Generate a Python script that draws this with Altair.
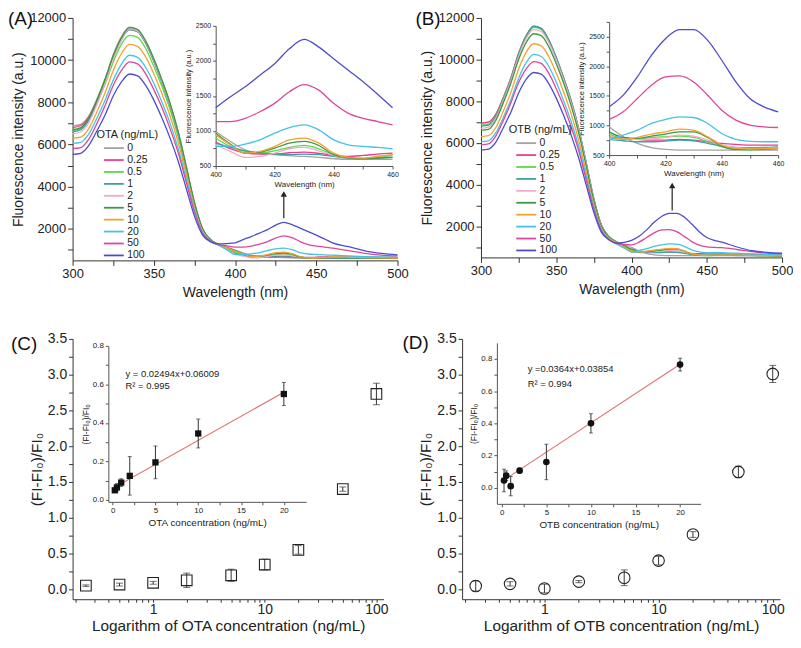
import altair as alt
import pandas as pd

FONT = "Liberation Sans"
CONC = ["0", "0.25", "0.5", "1", "2", "5", "10", "20", "50", "100"]
COLORS = ["#a3a3a3", "#ef3b8e", "#5ad94a", "#3f9fa6", "#f3a9c9",
          "#3b9a3b", "#f2a232", "#45c3e6", "#dc479b", "#4c4ccf"]

# wavelengths (nm)
WL = [300, 305, 310, 315, 320, 325, 330, 335, 340, 345, 350, 355, 360, 365, 370,
      375, 380, 385, 390, 395, 400, 405, 410, 415, 420, 425, 430, 435, 440, 445,
      450, 455, 460, 470, 480, 490, 500]

# Panel A: OTA spectra (a.u.)
OTA = {
    "0":    [6880, 6950, 7350, 8150, 9100, 10250, 11100, 11560, 11450, 10900, 10050, 9050, 7950, 6600, 4950, 3250, 2000, 1480, 1250, 1120, 992, 850, 732, 684, 661, 647, 637, 623, 604, 594, 594, 594, 594, 600, 605, 600, 595],
    "0.25": [6800, 6900, 7300, 8100, 9050, 10150, 11000, 11450, 11350, 10800, 9950, 8950, 7850, 6500, 4850, 3200, 1980, 1470, 1230, 1030, 840, 746, 684, 670, 670, 689, 699, 680, 651, 637, 651, 670, 684, 680, 660, 640, 630],
    "0.5":  [6650, 6750, 7150, 7950, 8850, 9900, 10750, 11170, 11080, 10550, 9700, 8750, 7650, 6350, 4750, 3150, 1950, 1460, 1220, 1060, 897, 779, 708, 684, 717, 765, 793, 746, 661, 613, 604, 623, 651, 640, 620, 610, 600],
    "1":    [6600, 6700, 7150, 7950, 8950, 10100, 10950, 11450, 11350, 10800, 9950, 8950, 7850, 6500, 4850, 3200, 1980, 1470, 1230, 1030, 826, 765, 717, 684, 670, 661, 670, 661, 637, 613, 604, 613, 623, 620, 610, 600, 595],
    "2":    [6500, 6600, 7050, 7900, 8900, 10050, 10950, 11480, 11380, 10850, 10000, 9000, 7900, 6550, 4900, 3200, 1990, 1470, 1240, 1020, 803, 708, 623, 637, 684, 746, 765, 717, 651, 613, 613, 637, 661, 650, 630, 615, 605],
    "5":    [6700, 6800, 7250, 8100, 9100, 10200, 11050, 11540, 11450, 10900, 10050, 9050, 7950, 6600, 4950, 3250, 2000, 1480, 1250, 1110, 968, 812, 684, 699, 755, 826, 850, 793, 661, 613, 604, 613, 623, 625, 615, 605, 600],
    "10":   [6300, 6350, 6750, 7550, 8450, 9500, 10300, 10750, 10650, 10150, 9350, 8400, 7350, 6100, 4550, 3000, 1880, 1430, 1230, 1090, 944, 803, 684, 708, 779, 873, 897, 826, 684, 623, 613, 637, 661, 650, 630, 615, 605],
    "20":   [6050, 6100, 6500, 7250, 8100, 9050, 9800, 10230, 10130, 9650, 8900, 8000, 7000, 5800, 4350, 2900, 1830, 1410, 1230, 1000, 779, 779, 812, 873, 968, 1048, 1086, 1015, 873, 803, 779, 765, 746, 710, 680, 660, 650],
    "50":   [5800, 5850, 6250, 7000, 7850, 8800, 9500, 9920, 9820, 9350, 8600, 7750, 6750, 5600, 4200, 2800, 1780, 1400, 1250, 1190, 1134, 1134, 1181, 1275, 1394, 1559, 1663, 1583, 1394, 1252, 1181, 1134, 1086, 960, 830, 750, 710],
    "100":  [5530, 5580, 5950, 6650, 7400, 8300, 8950, 9340, 9250, 8800, 8100, 7250, 6300, 5200, 3900, 2600, 1700, 1380, 1280, 1300, 1332, 1488, 1630, 1795, 1961, 2174, 2306, 2197, 2032, 1866, 1701, 1521, 1332, 1150, 950, 830, 760],
}

# Panel B: OTB spectra (a.u.)
OTB = {
    "0":    [6950, 7000, 7400, 8200, 9150, 10300, 11150, 11600, 11500, 10950, 10100, 9100, 8000, 6650, 5000, 3300, 2050, 1500, 1250, 1110, 978, 809, 697, 624, 596, 584, 584, 584, 584, 584, 584, 584, 584, 580, 575, 570, 565],
    "0.25": [6950, 7000, 7400, 8200, 9150, 10300, 11130, 11580, 11480, 10930, 10080, 9080, 7980, 6640, 4990, 3290, 2040, 1490, 1250, 1030, 809, 781, 764, 753, 753, 764, 753, 725, 697, 680, 669, 669, 669, 660, 640, 620, 610],
    "0.5":  [6850, 6900, 7320, 8150, 9100, 10250, 11100, 11550, 11450, 10900, 10060, 9060, 7960, 6620, 4980, 3280, 2040, 1490, 1250, 1050, 854, 781, 764, 798, 809, 820, 798, 725, 640, 596, 584, 596, 601, 600, 590, 580, 575],
    "1":    [6800, 6850, 7300, 8120, 9100, 10250, 11120, 11600, 11500, 10950, 10100, 9100, 8000, 6650, 5000, 3300, 2050, 1500, 1250, 1000, 764, 742, 725, 725, 736, 753, 742, 697, 652, 629, 624, 629, 640, 630, 615, 600, 590],
    "2":    [6700, 6760, 7200, 8050, 9020, 10150, 11000, 11440, 11350, 10820, 9980, 9000, 7900, 6580, 4950, 3250, 2020, 1480, 1240, 1000, 775, 775, 764, 775, 798, 837, 820, 753, 669, 629, 612, 612, 624, 615, 600, 590, 585],
    "5":    [6600, 6650, 7100, 7950, 8900, 10000, 10820, 11240, 11150, 10620, 9800, 8850, 7750, 6450, 4850, 3200, 1980, 1470, 1230, 1060, 893, 798, 781, 820, 854, 893, 893, 798, 652, 596, 596, 607, 612, 605, 595, 585, 580],
    "10":   [6300, 6350, 6750, 7550, 8450, 9550, 10350, 10760, 10660, 10150, 9350, 8420, 7370, 6100, 4550, 3000, 1880, 1420, 1200, 1000, 809, 764, 798, 854, 893, 938, 921, 809, 669, 612, 601, 612, 612, 610, 600, 590, 585],
    "20":   [6050, 6100, 6500, 7250, 8100, 9100, 9850, 10250, 10150, 9680, 8920, 8000, 7000, 5800, 4350, 2900, 1830, 1380, 1150, 950, 764, 837, 921, 1034, 1101, 1146, 1135, 1034, 865, 764, 730, 725, 725, 700, 670, 650, 640],
    "50":   [5900, 5950, 6350, 7100, 7950, 8900, 9550, 9900, 9820, 9350, 8600, 7750, 6750, 5600, 4200, 2800, 1780, 1350, 1180, 1120, 1101, 1231, 1455, 1680, 1821, 1838, 1736, 1512, 1259, 1090, 1006, 978, 966, 880, 780, 710, 680],
    "100":  [5650, 5700, 6050, 6750, 7500, 8400, 9050, 9380, 9300, 8850, 8150, 7300, 6350, 5250, 3950, 2650, 1700, 1350, 1180, 1220, 1315, 1512, 1821, 2186, 2467, 2619, 2619, 2439, 2102, 1736, 1455, 1315, 1231, 1000, 820, 740, 700],
}

# Arrows (wavelength, start, end) in main-plot units
ARROW_A = [430, 2500, 3650]
ARROW_B = [427, 2750, 3950]

# Panels C / D: calibration data
CONC_NUM = [0.25, 0.5, 1, 2, 5, 10, 20, 50, 100]
OTA_RESP = [0.05, 0.065, 0.09, 0.125, 0.195, 0.345, 0.55, 1.40, 2.73]
OTA_ERR = [0.01, 0.02, 0.02, 0.10, 0.085, 0.075, 0.06, 0.03, 0.15]
OTB_RESP = [0.045, 0.075, 0.01, 0.106, 0.16, 0.40, 0.765, 1.64, 3.01]
OTB_ERR = [0.07, 0.03, 0.06, 0.015, 0.11, 0.06, 0.04, 0.08, 0.12]
FIT_X = [0.25, 20]
FIT_C_Y = [0.066, 0.559]
FIT_D_Y = [0.048, 0.767]
EQ_C = ["y = 0.02494x+0.06009", "R² = 0.995"]
EQ_D = ["y =0.0364x+0.03854", "R² = 0.994"]

LOG_TICKS = [0.2, 0.3, 0.4, 0.5, 0.6, 0.7, 0.8, 0.9, 1, 2, 3, 4, 5, 6, 7, 8, 9,
             10, 20, 30, 40, 50, 60, 70, 80, 90, 100]
Y_CAL_TICKS = [0, 0.25, 0.5, 0.75, 1.0, 1.25, 1.5, 1.75, 2.0, 2.25, 2.5, 2.75, 3.0, 3.25, 3.5]
INS_Y_TICKS = [0.0, 0.1, 0.2, 0.3, 0.4, 0.5, 0.6, 0.7, 0.8]
INS_X_TICKS = [0, 2.5, 5, 7.5, 10, 12.5, 15, 17.5, 20]


def long_df(spec):
    rows = []
    for c in CONC:
        for w, v in zip(WL, spec[c]):
            rows.append({"wl": w, "fi": v, "conc": c})
    return pd.DataFrame(rows)


def text_label(label, lx, ly):
    return alt.Chart(pd.DataFrame({"t": [label]})).mark_text(
        align="left", baseline="middle", fontSize=19, font=FONT, color="#111"
    ).encode(x=alt.value(lx), y=alt.value(ly), text="t:N")


def spectra_panel(spec, label, lx, ly, legend_title, legx, legy, W, H,
                  ins_xr, ins_yr, ins_ydom, arrow):
    df = long_df(spec)
    cscale = alt.Scale(domain=CONC, range=COLORS)
    xsc = alt.Scale(domain=[300, 500], nice=False, zero=False)
    ysc = alt.Scale(domain=[500, 12000], nice=False, zero=False)
    xax = alt.Axis(title="Wavelength (nm)", values=list(range(300, 501, 25)),
                   labelExpr="datum.value % 50 === 0 ? datum.label : ''",
                   labelFontSize=13, titleFontSize=14, tickSize=5, labelPadding=2,
                   titlePadding=5, labelFlush=False)
    yax = alt.Axis(title="Fluorescence intensity (a.u.)", values=list(range(1000, 12001, 1000)),
                   labelExpr="datum.value % 2000 === 0 ? datum.label : ''", format="d",
                   labelFontSize=13, titleFontSize=14, tickSize=5, labelPadding=2,
                   titlePadding=4, labelFlush=False)
    lines = alt.Chart(df).mark_line(strokeWidth=1.3, interpolate="monotone").encode(
        x=alt.X("wl:Q", scale=xsc, axis=xax),
        y=alt.Y("fi:Q", scale=ysc, axis=yax),
        color=alt.Color("conc:N", scale=cscale, sort=CONC, legend=alt.Legend(
            title=legend_title, orient="none", legendX=legx, legendY=legy,
            symbolType="M0.3,0H4.3", symbolSize=100, symbolStrokeWidth=1.8,
            labelOffset=19, labelFontSize=10.5, titleFontSize=11, titleFontWeight="normal",
            rowPadding=-1, titlePadding=2, labelColor="#222", titleColor="#222")),
    )
    arr = pd.DataFrame({"wl": [arrow[0]], "fi": [arrow[1]], "fi2": [arrow[2]]})
    head_df = pd.DataFrame({"wl": [arrow[0]], "fi": [arrow[2]]})
    rule = alt.Chart(arr).mark_rule(color="#222", strokeWidth=1.2).encode(
        x=alt.X("wl:Q", scale=xsc, axis=xax),
        y=alt.Y("fi:Q", scale=ysc, axis=yax), y2="fi2:Q")
    head = alt.Chart(head_df).mark_point(shape="triangle-up", filled=True, color="#222",
                                         size=40, opacity=1).encode(
        x=alt.X("wl:Q", scale=xsc, axis=xax),
        y=alt.Y("fi:Q", scale=ysc, axis=yax))
    main = alt.layer(lines, rule, head, text_label(label, lx, ly))

    ins = df[(df.wl >= 400) & (df.wl <= 460)]
    inset = alt.Chart(ins).mark_line(strokeWidth=1.3, interpolate="monotone").encode(
        x=alt.X("wl:Q", scale=alt.Scale(domain=[400, 460], range=ins_xr, nice=False, zero=False),
                axis=alt.Axis(orient="bottom", offset=ins_yr[0] - H, title="Wavelength (nm)",
                              values=list(range(400, 461, 10)),
                              labelExpr="datum.value % 20 === 0 ? datum.label : ''",
                              labelFontSize=7, titleFontSize=8, tickSize=3, labelPadding=2,
                              titlePadding=3, domainColor="#555", tickColor="#555",
                              labelFlush=False)),
        y=alt.Y("fi:Q", scale=alt.Scale(domain=ins_ydom, range=ins_yr, nice=False, zero=False),
                axis=alt.Axis(orient="left", offset=-ins_xr[0], title="Fluorescence intensity (a.u.)",
                              values=list(range(500, ins_ydom[1] + 1, 250)), format="d",
                              labelExpr="datum.value % 500 === 0 ? datum.label : ''",
                              labelFontSize=7, titleFontSize=7.5, tickSize=3, labelPadding=2,
                              titlePadding=3, domainColor="#555", tickColor="#555",
                              labelFlush=False)),
        color=alt.Color("conc:N", scale=cscale, legend=None),
    )
    return alt.layer(main, inset).resolve_scale(
        x="independent", y="independent", color="independent").properties(width=W, height=H)


def calib_panel(resp, err, shape, main_size, ins_size, fit_y, eq, eq_xy, label, lx, ly,
                xtitle, ins_xtitle, W, H, ins_xdom, ins_xr, ins_ydom, ins_yr):
    lo = [v - e for v, e in zip(resp, err)]
    hi = [v + e for v, e in zip(resp, err)]
    dfm = pd.DataFrame({"c": CONC_NUM, "v": resp, "lo": lo, "hi": hi})
    xsc = alt.Scale(type="log", domain=[0.19, 116], nice=False)
    ysc = alt.Scale(domain=[-0.14, 3.5], nice=False, zero=False)
    xax = alt.Axis(title=xtitle, values=LOG_TICKS,
                   labelExpr="(datum.value === 1 || datum.value === 10 || datum.value === 100) ? datum.label : ''",
                   format="~g", labelFontSize=14, titleFontSize=15.5, tickSize=3,
                   labelPadding=0, titlePadding=2, labelFlush=False)
    yax = alt.Axis(title="(FI-FI₀)/FI₀", values=Y_CAL_TICKS,
                   labelExpr="(datum.value * 2) % 1 === 0 ? format(datum.value, '.1f') : ''",
                   labelFontSize=14, titleFontSize=15.5, tickSize=4, labelPadding=2,
                   titlePadding=3, labelFlush=False, labelOverlap=False)
    X = alt.X("c:Q", scale=xsc, axis=xax)
    bars = alt.Chart(dfm).mark_rule(color="#333", strokeWidth=1).encode(
        x=X, y=alt.Y("lo:Q", scale=ysc, axis=yax), y2="hi:Q")
    cap_lo = alt.Chart(dfm).mark_tick(orient="horizontal", size=7, thickness=1, color="#333").encode(
        x=X, y=alt.Y("lo:Q", scale=ysc, axis=yax))
    cap_hi = alt.Chart(dfm).mark_tick(orient="horizontal", size=7, thickness=1, color="#333").encode(
        x=X, y=alt.Y("hi:Q", scale=ysc, axis=yax))
    pts = alt.Chart(dfm).mark_point(shape=shape, size=main_size, filled=False, color="#222",
                                    strokeWidth=1.1, opacity=1).encode(
        x=X, y=alt.Y("v:Q", scale=ysc, axis=yax))
    main = alt.layer(bars, cap_lo, cap_hi, pts, text_label(label, lx, ly))

    dfi = dfm[dfm.c <= 20]
    ixsc = alt.Scale(domain=ins_xdom, range=ins_xr, nice=False, zero=False)
    iysc = alt.Scale(domain=ins_ydom, range=ins_yr, nice=False, zero=False)
    ixax = alt.Axis(orient="bottom", offset=ins_yr[0] - H, title=ins_xtitle, values=INS_X_TICKS,
                    labelExpr="datum.value % 5 === 0 ? datum.label : ''",
                    labelFontSize=8, titleFontSize=10, tickSize=3, labelPadding=2,
                    titlePadding=3, domainColor="#555", tickColor="#555", labelFlush=False)
    iyax = alt.Axis(orient="left", offset=-ins_xr[0], title="(FI-FI₀)/FI₀", values=INS_Y_TICKS,
                    labelExpr="indexof([0, 0.2, 0.4, 0.6, 0.8], datum.value) >= 0 ? format(datum.value, '.1f') : ''",
                    labelFontSize=8, titleFontSize=8.5, tickSize=3, labelPadding=2,
                    titlePadding=2, domainColor="#555", tickColor="#555", labelFlush=False)
    IX = alt.X("c:Q", scale=ixsc, axis=ixax)
    fit = alt.Chart(pd.DataFrame({"c": FIT_X, "v": fit_y})).mark_line(
        color="#e07878", strokeWidth=1.2).encode(x=IX, y=alt.Y("v:Q", scale=iysc, axis=iyax))
    ibars = alt.Chart(dfi).mark_rule(color="#333", strokeWidth=1).encode(
        x=IX, y=alt.Y("lo:Q", scale=iysc, axis=iyax), y2="hi:Q")
    icap_lo = alt.Chart(dfi).mark_tick(orient="horizontal", size=4, thickness=1, color="#333").encode(
        x=IX, y=alt.Y("lo:Q", scale=iysc, axis=iyax))
    icap_hi = alt.Chart(dfi).mark_tick(orient="horizontal", size=4, thickness=1, color="#333").encode(
        x=IX, y=alt.Y("hi:Q", scale=iysc, axis=iyax))
    ipts = alt.Chart(dfi).mark_point(shape=shape, size=ins_size, filled=True, color="#111",
                                     opacity=1).encode(x=IX, y=alt.Y("v:Q", scale=iysc, axis=iyax))
    tdf = pd.DataFrame({"c": [eq_xy[0], eq_xy[0]], "v": [eq_xy[1], eq_xy[2]], "t": eq})
    txt = alt.Chart(tdf).mark_text(align="left", baseline="middle", fontSize=9.5, font=FONT,
                                   color="#222").encode(
        x=IX, y=alt.Y("v:Q", scale=iysc, axis=iyax), text="t:N")
    inset = alt.layer(fit, ibars, icap_lo, icap_hi, ipts, txt)
    return alt.layer(main, inset).resolve_scale(
        x="independent", y="independent").properties(width=W, height=H)


pA = spectra_panel(OTA, "(A)", -65, 1, "OTA (ng/mL)", 24, 112, 327, 244,
                   [144, 322], [149, 8], [500, 2500], ARROW_A)
pB = spectra_panel(OTB, "(B)", -66, 1, "OTB (ng/mL)", 28, 107, 303, 241,
                   [129, 299], [138, 4], [500, 2750], ARROW_B)
pC = calib_panel(OTA_RESP, OTA_ERR, "square", 115, 40, FIT_C_Y, EQ_C, [1.5, 0.655, 0.59],
                 "(C)", -62, 5, "Logarithm of OTA concentration (ng/mL)", "OTA concentration (ng/mL)",
                 313, 262, [-0.5, 22.6], [36, 235], [-0.01, 0.8], [164, 7])
pD = calib_panel(OTB_RESP, OTB_ERR, "circle", 135, 45, FIT_D_Y, EQ_D, [2.9, 0.737, 0.645],
                 "(D)", -60, 4, "Logarithm of OTB concentration (ng/mL)", "OTB concentration (ng/mL)",
                 320, 262, [-0.55, 22.3], [35, 240], [-0.1, 0.9], [166, 4])

chart = alt.vconcat(
    alt.hconcat(pA, pB, spacing=7),
    alt.hconcat(pC, pD, spacing=14),
    spacing=33,
).properties(padding=0).configure_view(stroke=None).configure_axis(
    grid=False, labelFont=FONT, titleFont=FONT, titleFontWeight="normal",
    domainColor="#333", tickColor="#333", labelColor="#222", titleColor="#222",
).configure_legend(labelFont=FONT, titleFont=FONT).configure_text(font=FONT)

chart.save("out.html", embed_options={"renderer": "svg", "actions": False})
